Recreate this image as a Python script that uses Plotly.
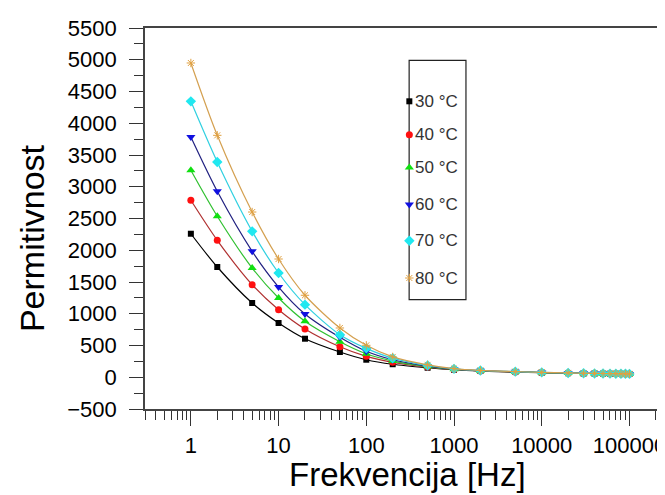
import math
import plotly.graph_objects as go

# ---------------- data ----------------
freq = [1, 2, 5, 10, 20, 50, 100, 200, 500, 1000, 2000, 5000, 10000,
        20000, 30000, 40000, 50000, 60000, 70000, 80000, 90000, 100000]

perm_30 = [2260, 1736, 1169, 854, 607, 398, 276, 205, 150, 118, 98, 82, 72,
           64, 60, 58, 56, 55, 54, 53, 52, 51]
perm_40 = [2787, 2157, 1457, 1064, 760, 480, 330, 235, 160, 122, 100, 84, 73,
           65, 61, 59, 57, 55, 54, 53, 52, 51]
perm_50 = [3259, 2535, 1720, 1248, 881, 560, 370, 255, 168, 126, 102, 85, 74,
           66, 62, 59, 57, 56, 55, 54, 53, 52]
perm_60 = [3783, 2928, 1983, 1421, 996, 629, 409, 275, 175, 128, 104, 86, 75,
           66, 62, 60, 58, 56, 55, 54, 53, 52]
perm_70 = [4345, 3390, 2298, 1642, 1143, 670, 455, 300, 185, 132, 106, 88, 76,
           67, 63, 60, 58, 57, 56, 55, 54, 53]
perm_80 = [4949, 3810, 2602, 1862, 1291, 776, 503, 320, 195, 136, 108, 89, 77,
           68, 63, 61, 59, 57, 56, 55, 54, 53]

series_names = ["30 °C", "40 °C", "50 °C", "60 °C", "70 °C", "80 °C"]
series_values = [perm_30, perm_40, perm_50, perm_60, perm_70, perm_80]

x_tick_vals = [1, 10, 100, 1000, 10000, 100000]
x_tick_text = ["1", "10", "100", "1000", "10000", "100000"]

x_title = "Frekvencija [Hz]"
y_title = "Permitivnost"

# ---------------- styles ----------------
marker_colors = ["#000000", "#ff1010", "#10e010", "#1010e0", "#20e8f0", "#e0a040"]
line_colors = ["#000000", "#b03030", "#30c030", "#202080", "#30d0e0", "#d4a050"]
symbols = ["square", "circle", "triangle-up", "triangle-down", "diamond", "asterisk-open"]
sizes = [6, 7, 8, 8, 8, 7]

W, H = 665, 495
L, R = 137.3, 663.0   # plot area pixel bounds
T, B = 20.0, 401.0

def px(xpix):
    return (xpix - L) / (R - L)

def py(ypix):
    return (B - ypix) / (B - T)

FONT = "Arial, Liberation Sans, sans-serif"

fig = go.Figure()

for name, vals, mc, lc, sym, sz in zip(series_names, series_values, marker_colors,
                                        line_colors, symbols, sizes):
    fig.add_trace(go.Scatter(
        x=freq, y=vals, name=name, mode="lines+markers",
        line=dict(color=lc, width=1.2, shape="spline", smoothing=0.8),
        marker=dict(color=mc, symbol=sym, size=sz,
                    line=dict(color=mc, width=1.0 if sym == "asterisk-open" else 0)),
        showlegend=False, xaxis="x", yaxis="y",
    ))

# custom legend (markers on an overlay axis with paper-like range)
leg_rows_px = [93.3, 126.7, 159.5, 196.5, 232.7, 270.0]
leg_marker_x = 402.5
for name, mc, sym, sz, ypix in zip(series_names, marker_colors, symbols, sizes, leg_rows_px):
    fig.add_trace(go.Scatter(
        x=[px(leg_marker_x)], y=[py(ypix)], mode="markers",
        marker=dict(color=mc, symbol=sym, size=sz,
                    line=dict(color=mc, width=1.0 if sym == "asterisk-open" else 0)),
        showlegend=False, xaxis="x2", yaxis="y2", hoverinfo="skip",
    ))

annotations = []
for name, ypix in zip(series_names, leg_rows_px):
    annotations.append(dict(
        x=px(406), y=py(ypix), xref="paper", yref="paper", text=name,
        showarrow=False, xanchor="left", yanchor="middle",
        font=dict(family=FONT, size=17, color="#333333"),
    ))

annotations.append(dict(
    x=px(401), y=py(467), xref="paper", yref="paper", text=x_title,
    showarrow=False, xanchor="center", yanchor="middle",
    font=dict(family=FONT, size=33, color="#000000"),
))
annotations.append(dict(
    x=px(24), y=py(230), xref="paper", yref="paper", text=y_title,
    showarrow=False, xanchor="center", yanchor="middle", textangle=-90,
    font=dict(family=FONT, size=34, color="#000000"),
))

shapes = [dict(
    type="rect", xref="paper", yref="paper",
    x0=px(402.3), x1=px(459.3), y0=py(291.7), y1=py(52.3),
    line=dict(color="#222222", width=1.2), fillcolor="rgba(0,0,0,0)", layer="below",
)]

minor_x = []
for d in range(-1, 6):
    for k in range(2, 10):
        v = k * 10 ** d
        if 0.3 <= v <= 3e5:
            minor_x.append(v)

fig.update_layout(
    width=W, height=H,
    margin=dict(l=L, r=W - R, t=T, b=H - B, pad=0),
    paper_bgcolor="white", plot_bgcolor="white",
    showlegend=False,
    xaxis=dict(
        type="log", range=[math.log10(0.3), math.log10(0.3) + (R - L) / 88.0],
        tickmode="array", tickvals=x_tick_vals, ticktext=x_tick_text,
        ticks="outside", ticklen=15, tickwidth=1.3, tickcolor="#333333",
        showline=True, linecolor="#444444", linewidth=1.6, mirror=True,
        showgrid=False, zeroline=False,
        tickfont=dict(family=FONT, size=22, color="#000000"),
        ticklabelstandoff=1,
        minor=dict(tickmode="array", tickvals=minor_x, ticks="outside",
                   ticklen=9, tickwidth=1.3, tickcolor="#333333", showgrid=False),
    ),
    yaxis=dict(
        range=[-500, 5500], tick0=0, dtick=500,
        ticks="outside", ticklen=14, tickwidth=1.3, tickcolor="#333333",
        showline=True, linecolor="#444444", linewidth=1.6, mirror=True,
        showgrid=False, zeroline=False,
        tickfont=dict(family=FONT, size=22, color="#000000"),
        ticklabelstandoff=8,
        minor=dict(dtick=250, ticks="outside", ticklen=9, tickwidth=1.3,
                   tickcolor="#333333", showgrid=False),
    ),
    xaxis2=dict(range=[0, 1], overlaying="x", visible=False, domain=[0, 1]),
    yaxis2=dict(range=[0, 1], overlaying="y", visible=False, domain=[0, 1]),
    annotations=annotations,
    shapes=shapes,
)

fig.write_html("out.html")
